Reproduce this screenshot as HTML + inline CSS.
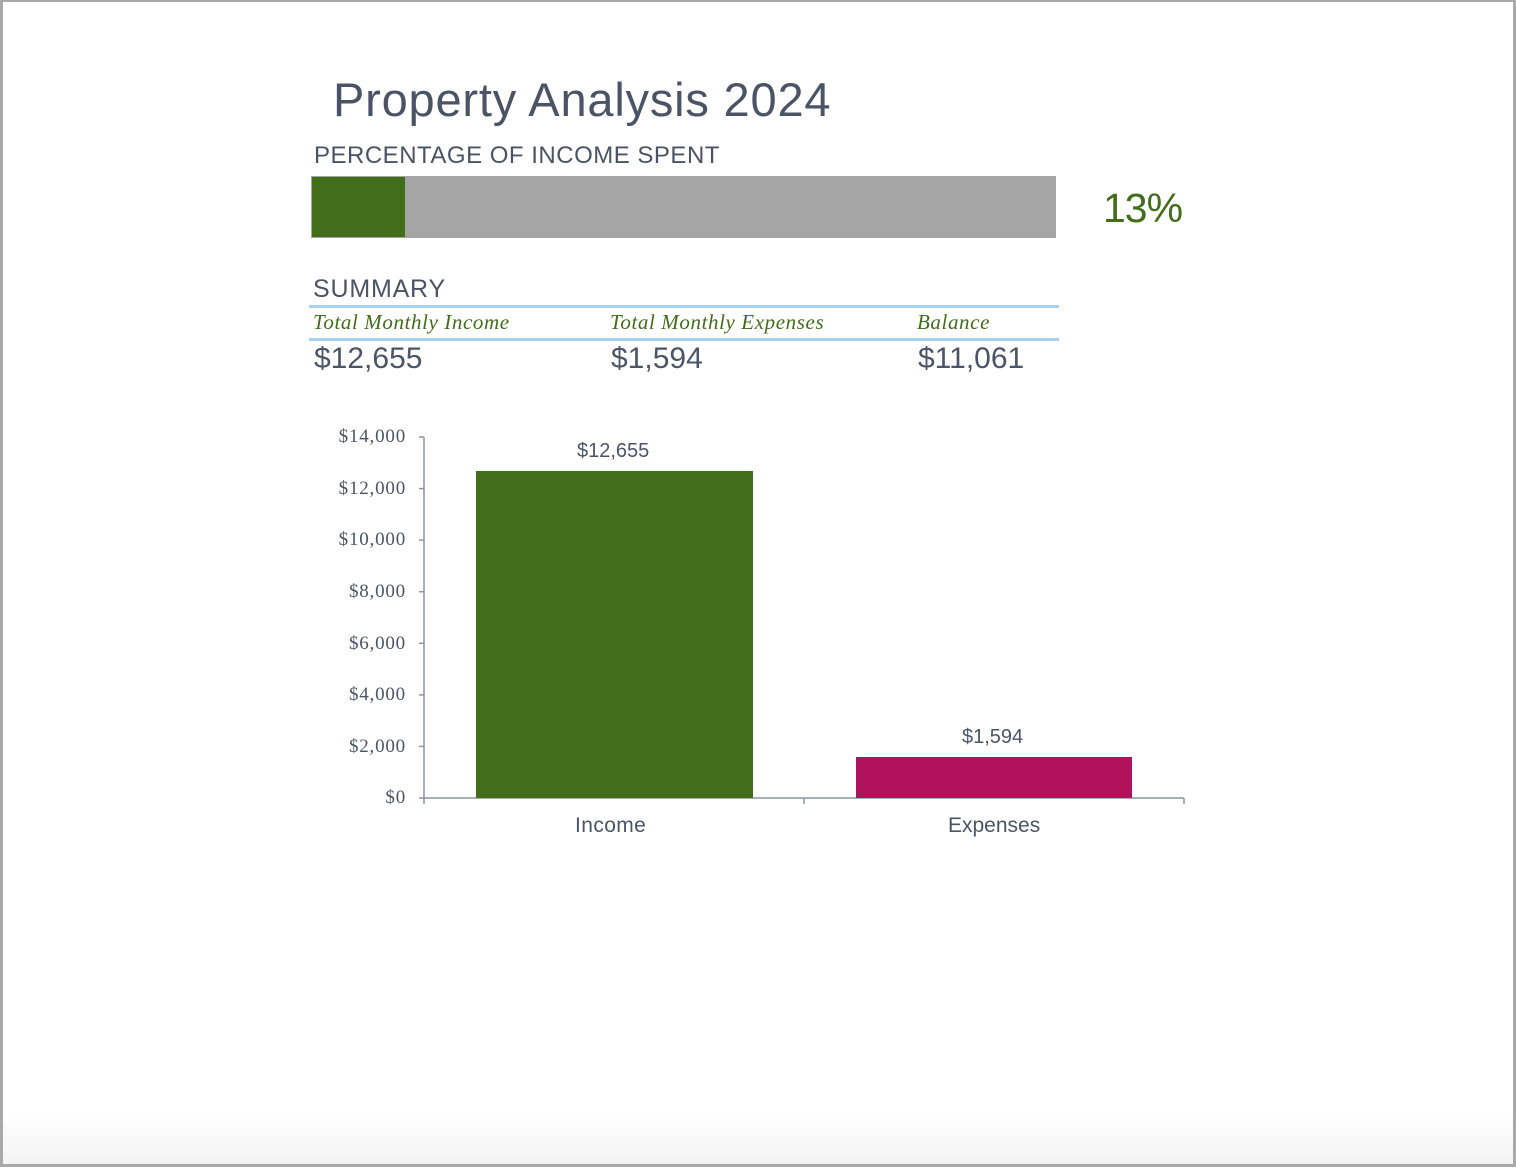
<!DOCTYPE html>
<html><head><meta charset="utf-8"><style>
html,body{margin:0;padding:0;}
body{width:1516px;height:1168px;position:relative;overflow:hidden;background:#fff;font-family:"Liberation Sans",sans-serif;}
.frame{position:absolute;left:0;top:0;width:1510px;height:1162px;border:3px solid #a9a9a9;border-top-width:2px;border-left-width:3px;background:linear-gradient(to bottom,#fff 0,#fff 1110px,#f3f3f3 1162px);}
.t{position:absolute;white-space:nowrap;color:#4a5568;}
.ser{font-family:"Liberation Serif",serif;}
.yl{position:absolute;right:1110px;font-family:"Liberation Serif",serif;font-size:19px;letter-spacing:0.8px;color:#4a5568;}
</style></head><body>
<div class="frame"></div>
<div class="t" style="left:333px;top:72px;font-size:47px;letter-spacing:0.8px;color:#4b5466;">Property Analysis 2024</div>
<div class="t" style="left:314px;top:142px;font-size:24px;letter-spacing:0.5px;color:#4b5466;">PERCENTAGE OF INCOME SPENT</div>
<div style="position:absolute;left:311px;top:176px;width:745px;height:62px;background:#a5a5a5;"></div>
<div style="position:absolute;left:312px;top:177px;width:93px;height:60px;background:#426d1b;"></div>
<div class="t" style="left:1103px;top:185px;font-size:41px;letter-spacing:-1px;color:#426d1b;">13%</div>
<div class="t" style="left:313px;top:275px;font-size:25px;letter-spacing:0.8px;color:#4b5466;">SUMMARY</div>
<div style="position:absolute;left:309px;top:305px;width:750px;height:3px;background:#a7d3f2;"></div>
<div style="position:absolute;left:309px;top:338px;width:750px;height:3px;background:#a7d3f2;"></div>
<div class="t ser" style="left:313px;top:310px;font-size:21px;letter-spacing:0.6px;font-style:italic;color:#426d1b;">Total Monthly Income</div>
<div class="t ser" style="left:610px;top:310px;font-size:21px;letter-spacing:0.6px;font-style:italic;color:#426d1b;">Total Monthly Expenses</div>
<div class="t ser" style="left:917px;top:310px;font-size:21px;letter-spacing:0.6px;font-style:italic;color:#426d1b;">Balance</div>
<div class="t" style="left:314px;top:342px;font-size:30px;">$12,655</div>
<div class="t" style="left:611px;top:342px;font-size:30px;">$1,594</div>
<div class="t" style="left:918px;top:342px;font-size:30px;">$11,061</div>
<svg style="position:absolute;left:0;top:0" width="1516" height="1168">
<g stroke="#8a94a6" stroke-width="1.5" fill="none">
<line x1="424" y1="437" x2="424" y2="798"/>
<line x1="424" y1="798" x2="1184" y2="798"/>
<line x1="419" y1="437" x2="424" y2="437"/><line x1="419" y1="488.6" x2="424" y2="488.6"/>
<line x1="419" y1="540.1" x2="424" y2="540.1"/><line x1="419" y1="591.7" x2="424" y2="591.7"/>
<line x1="419" y1="643.3" x2="424" y2="643.3"/><line x1="419" y1="694.9" x2="424" y2="694.9"/>
<line x1="419" y1="746.4" x2="424" y2="746.4"/><line x1="419" y1="798" x2="424" y2="798"/>
<line x1="804" y1="798" x2="804" y2="804"/><line x1="1184" y1="798" x2="1184" y2="804"/><line x1="424" y1="798" x2="424" y2="804"/>
</g>
<rect x="476" y="471" width="277" height="327" fill="#426d1b"/>
<rect x="856" y="757" width="276" height="41" fill="#b0125b"/>
</svg>
<div class="yl" style="top:426px;">$14,000</div>
<div class="yl" style="top:478px;">$12,000</div>
<div class="yl" style="top:529px;">$10,000</div>
<div class="yl" style="top:581px;">$8,000</div>
<div class="yl" style="top:633px;">$6,000</div>
<div class="yl" style="top:684px;">$4,000</div>
<div class="yl" style="top:736px;">$2,000</div>
<div class="yl" style="top:787px;">$0</div>
<div class="t" style="left:577px;top:440px;font-size:20px;">$12,655</div>
<div class="t" style="left:962px;top:726px;font-size:20px;">$1,594</div>
<div class="t" style="left:575px;top:814px;font-size:21px;letter-spacing:0.4px;">Income</div>
<div class="t" style="left:948px;top:814px;font-size:21px;">Expenses</div>
</body></html>
